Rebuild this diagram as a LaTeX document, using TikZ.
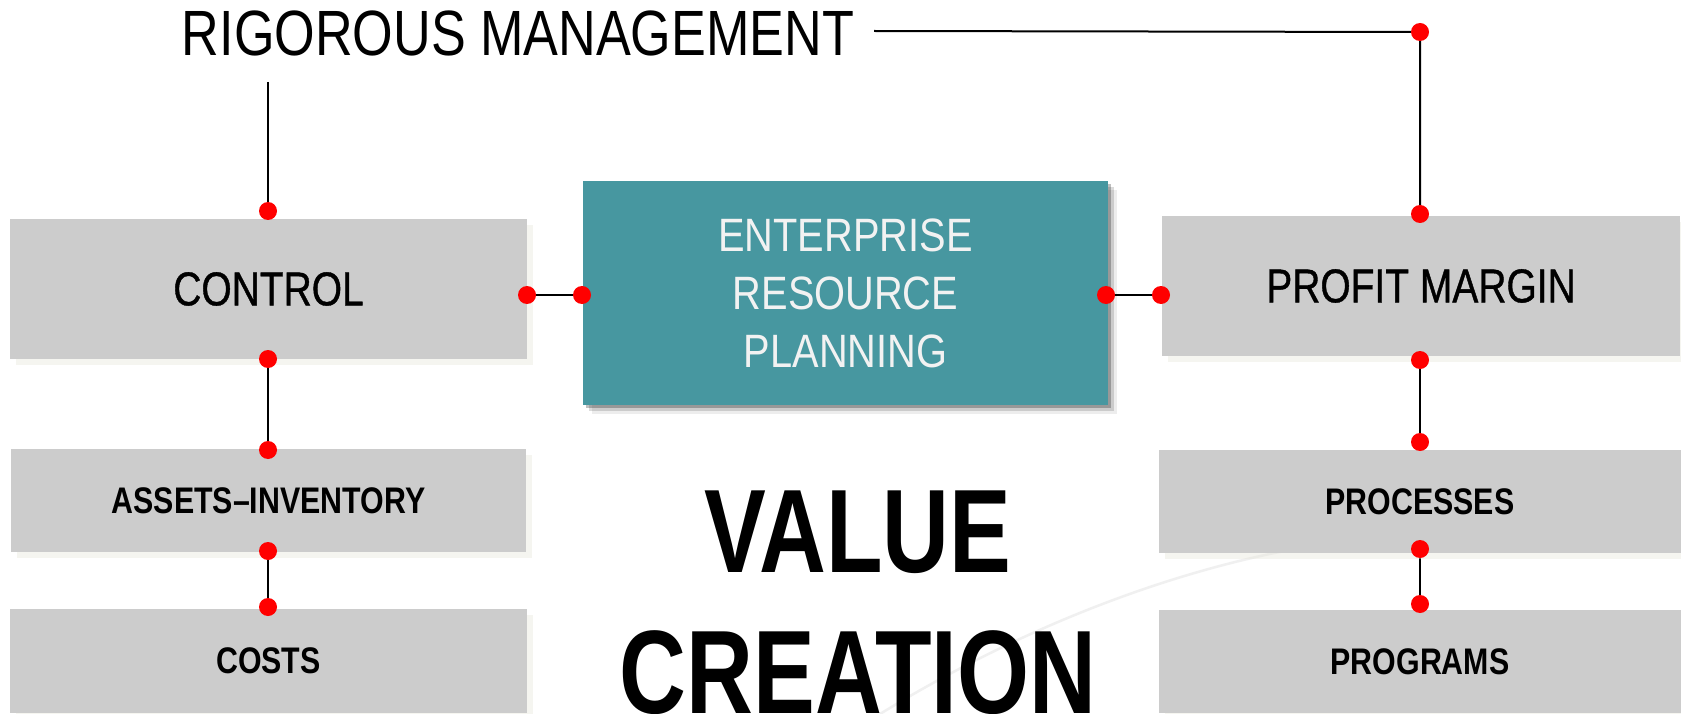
\documentclass[tikz,border=0pt]{standalone}
\usepackage{fontspec}
\setmainfont{Liberation Sans}
\newfontfamily\topfont{Liberation Sans}[FakeStretch=0.815]
\newfontfamily\midfont{Liberation Sans}[FakeStretch=0.82, FakeBold=0.8]
\newfontfamily\boxfont{Liberation Sans}[FakeStretch=0.82]
\newfontfamily\erpfont{Liberation Sans}[FakeStretch=0.85]
\newfontfamily\bigfont{Liberation Sans}[FakeStretch=0.78]
\usetikzlibrary{shadows}

\definecolor{boxgrey}{HTML}{CCCCCC}
\definecolor{erpteal}{HTML}{4797A0}
\definecolor{erptext}{HTML}{F2F2F2}
\definecolor{dotred}{HTML}{FF0000}
\definecolor{haze}{RGB}{232,230,218}

\pgfdeclarelayer{bg}
\pgfsetlayers{bg,main}

\tikzset{
  greybox/.style={fill=boxgrey, inner sep=0pt, text=black,
    drop shadow={shadow xshift=6pt, shadow yshift=-6pt, fill=haze, opacity=0.4}},
  bigbox/.style={greybox, font=\midfont\fontsize{47.5}{56}\selectfont},
  smallbox/.style={greybox, font=\boxfont\bfseries\fontsize{37}{44}\selectfont},
  erpbox/.style={fill=erpteal, inner sep=0pt, text=erptext, align=center,
    font=\erpfont\fontsize{46.8}{58}\selectfont,
    drop shadow={shadow xshift=3pt, shadow yshift=-3pt, fill=black, opacity=0.25},
    drop shadow={shadow xshift=6pt, shadow yshift=-6pt, fill=black, opacity=0.14},
    drop shadow={shadow xshift=9pt, shadow yshift=-9pt, fill=black, opacity=0.07}},
  dot/.style={circle, fill=dotred, inner sep=0pt, minimum size=18pt},
  link/.style={draw=black, line width=2pt},
  headline/.style={anchor=base, inner sep=0pt, font=\topfont\fontsize{64}{70}\selectfont},
  slogan/.style={anchor=base, inner sep=0pt, font=\bigfont\bfseries\fontsize{118.7}{141}\selectfont}
}

\begin{document}
\begin{tikzpicture}[x=1pt, y=-1pt]
\useasboundingbox (0,0) rectangle (1681,714);

% page and a faint swoosh behind everything
\begin{pgfonlayer}{bg}
  \fill[white] (0,0) rectangle (1681,714);
  \draw[gray!12, line width=2.5pt] (880,714) .. controls (1000,640) and (1150,575) .. (1300,548)
        .. controls (1450,522) and (1580,512) .. (1681,508);
\end{pgfonlayer}

% heading
\node[headline] (rig) at (518,56) {RIGOROUS MANAGEMENT};

% left column
\node[bigbox, minimum width=517pt, minimum height=140pt] (control) at (268.5,289) {CONTROL};
\node[smallbox, minimum width=515pt, minimum height=103pt] (assets) at (268.5,500.5) {ASSETS–INVENTORY};
\node[smallbox, minimum width=517pt, minimum height=104pt] (costs) at (268.5,661) {COSTS};

% centre block
\node[erpbox, minimum width=525pt, minimum height=224pt] (erp) at (845.5,293) {ENTERPRISE\\RESOURCE\\PLANNING};

% right column
\node[bigbox, minimum width=518pt, minimum height=140pt] (profit) at (1421,286) {PROFIT MARGIN};
\node[smallbox, minimum width=522pt, minimum height=103pt] (processes) at (1420,501.5) {PROCESSES};
\node[smallbox, minimum width=522pt, minimum height=103pt] (programs) at (1420,661.5) {PROGRAMS};

% slogan
\node[slogan] (value) at (858,572) {VALUE};
\node[slogan] (creation) at (858,713) {CREATION};

% connector end points
\node[dot] (ctop) at (268,211) {};
\node[dot] (cbot) at (268,359) {};
\node[dot] (atop) at (268,450) {};
\node[dot] (abot) at (268,551) {};
\node[dot] (stop) at (268,607) {};
\node[dot] (cright) at (527,295) {};
\node[dot] (eleft) at (582,295) {};
\node[dot] (eright) at (1106,295) {};
\node[dot] (pleft) at (1161,295) {};
\node[dot] (corner) at (1420,32) {};
\node[dot] (ptop) at (1420,214) {};
\node[dot] (pbot) at (1420,360) {};
\node[dot] (prtop) at (1420,442) {};
\node[dot] (prbot) at (1420,549) {};
\node[dot] (pgtop) at (1420,604) {};

\coordinate (lefttop) at (268,82);
\coordinate (topstart) at (874,31);

% connectors
\begin{pgfonlayer}{bg}
  \draw[link] (lefttop) -- (ctop.center);
  \draw[link] (cbot.center) -- (atop.center);
  \draw[link] (abot.center) -- (stop.center);
  \draw[link] (cright.center) -- (eleft.center);
  \draw[link] (eright.center) -- (pleft.center);
  \draw[link] (topstart) -- (corner.center) -- (ptop.center);
  \draw[link] (pbot.center) -- (prtop.center);
  \draw[link] (prbot.center) -- (pgtop.center);
\end{pgfonlayer}
\end{tikzpicture}
\end{document}
